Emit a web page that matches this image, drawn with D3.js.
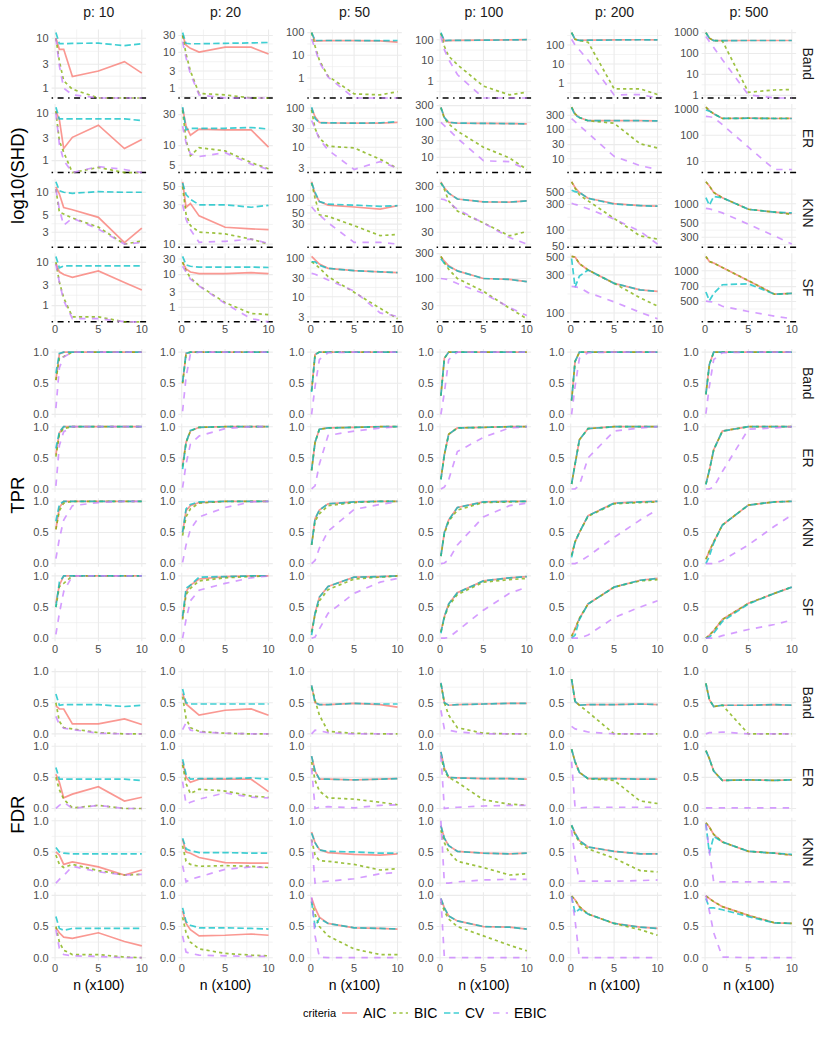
<!DOCTYPE html>
<html>
<head>
<meta charset="utf-8">
<script src="https://cdn.jsdelivr.net/npm/d3@7"></script>
<style>
  body { margin: 0; background: #fff; }
  svg text { font-family: "Liberation Sans", Arial, sans-serif; }
</style>
</head>
<body>
<svg id="chart" width="830" height="1038"></svg>
<script>

// ---- axes / categories ----
var nVals = [0.1, 0.5, 1, 2, 5, 8, 10];
var pVals = [10, 20, 50, 100, 200, 500];
var graphTypes = ["Band", "ER", "KNN", "SF"];
var criteria = ["AIC", "BIC", "CV", "EBIC"];
var metrics = ["SHD", "TPR", "FDR"];
var metricTitles = ["log10(SHD)", "TPR", "FDR"];
var xTicks = [0, 5, 10];
var rateTicks = [0, 0.5, 1];

// log10 tick labels shown on each SHD panel, one list per p
var shdTicksBand = [[1, 3, 10], [1, 3, 10, 30], [1, 10, 100], [1, 10, 100], [1, 10, 100], [1, 10, 100, 1000]];
var shdTicksER   = [[1, 3, 10], [5, 10, 30], [3, 10, 30, 100], [10, 30, 100, 300], [10, 30, 100, 300], [10, 100, 1000]];
var shdTicksKNN  = [[3, 5, 10], [10, 30, 50], [30, 50, 100], [30, 100, 300], [50, 100, 300, 500], [300, 500, 1000]];
var shdTicksSF   = [[1, 3, 10], [1, 3, 10, 30], [3, 10, 30, 100], [30, 100, 300], [100, 300, 500], [500, 700, 1000]];

// ---- SHD (rows = p 10..500, cols = n) ----
var shdBandAIC = [[10, 6, 6, 1.7, 2.2, 3.4, 2.0], [30, 16, 13, 10.2, 14, 14, 9], [100, 42, 43, 44, 44, 43, 38], [200, 88, 90, 92, 95, 98, 100], [450, 200, 175, 180, 185, 190, 185], [1000, 540, 415, 415, 420, 420, 420]];
var shdBandBIC = [[10, 3.5, 1.4, 0.95, 0, 0, 0], [30, 9, 3, 0.7, 0.64, 0, 0], [100, 25, 6, 1.2, 0.2, 0.18, 0.25], [200, 48, 16, 6.3, 0.58, 0.22, 0.3], [450, 200, 175, 140, 0.5, 0.5, 0.25], [1000, 540, 415, 400, 1.4, 1.8, 1.9]];
var shdBandCV = [[13, 7.8, 7.8, 7.9, 8, 7.1, 7.8], [36, 18, 17.5, 17.5, 18, 18.5, 19], [100, 45, 45, 45, 45, 44, 45], [220, 90, 92, 93, 95, 98, 100], [450, 200, 175, 180, 185, 190, 185], [1000, 540, 415, 415, 420, 420, 420]];
var shdBandEBIC = [[10, 2.8, 1.0, 0.73, 0, 0, 0], [20, 7, 2.5, 0.64, 0, 0, 0], [52, 20, 5, 1.1, 0, 0, 0], [145, 33, 11, 2.1, 0, 0, 0], [200, 100, 55, 16, 0.24, 0.25, 0], [650, 380, 195, 51, 1.05, 0, 0]];

var shdERAIC = [[11, 7.3, 1.8, 3.1, 5.6, 1.8, 2.8], [38, 20, 14.5, 18, 17.5, 17.5, 9.5], [100, 60, 43, 42, 41, 41, 43], [270, 137, 100, 95, 93, 92, 90], [560, 330, 250, 195, 195, 195, 192], [1150, 850, 650, 430, 440, 430, 435]];
var shdERBIC = [[11, 2.6, 1.5, 0, 0.72, 0, 0], [35, 12, 7, 9.3, 8.3, 5.5, 4.4], [90, 30, 17, 10.6, 9.6, 4.9, 2.9], [260, 130, 90, 56, 19.5, 9.6, 4.5], [560, 330, 250, 195, 160, 32, 23], [1150, 850, 650, 430, 440, 430, 435]];
var shdERCV = [[13.4, 7.6, 7.6, 7.6, 7.6, 7.6, 7], [39, 17.5, 18.5, 18.5, 18.5, 19, 18], [105, 54, 42, 42, 41, 42, 45], [265, 137, 100, 95, 93, 92, 90], [540, 300, 250, 195, 195, 195, 192], [900, 820, 650, 430, 440, 430, 430]];
var shdEREBIC = [[10, 2.2, 1.0, 0, 0.75, 0.65, 0], [20, 11, 7.5, 6.8, 7.8, 5.2, 4.3], [48, 30, 16, 8.5, 2.7, 4.3, 2.9], [100, 80, 62, 35, 8, 7.5, 4.5], [230, 180, 135, 74, 12, 5.8, 4.3], [520, 500, 470, 250, 35, 5, 5]];

var shdKNNAIC = [[11.8, 9.5, 6.3, 5.9, 4.7, 2.2, 3.4], [57, 28, 31, 22, 16, 15.3, 15], [210, 120, 85, 72, 66, 60, 70], [380, 280, 215, 160, 138, 137, 145], [790, 620, 500, 390, 310, 285, 280], [2200, 1900, 1500, 1240, 820, 740, 700]];
var shdKNNBIC = [[11, 5.5, 5.2, 4.6, 3.5, 2.1, 2.3], [50, 23, 16.8, 14, 13.3, 11.5, 10], [200, 100, 46, 43, 28, 17.7, 18.7], [360, 260, 145, 87, 48, 25, 31], [790, 600, 450, 350, 165, 78, 68], [2200, 1900, 1500, 1240, 820, 740, 680]];
var shdKNNCV = [[13.7, 10.5, 10, 9.7, 10.2, 10, 10], [55, 40, 35, 30, 30, 28, 29.5], [200, 130, 85, 75, 72, 68, 70], [360, 280, 215, 160, 138, 137, 145], [550, 520, 500, 390, 305, 285, 278], [1250, 950, 1300, 1240, 820, 740, 720]];
var shdKNNEBIC = [[11, 6, 3.7, 4.6, 3.3, 2.1, 2.2], [30, 20, 15, 10.5, 10.8, 11.5, 10.2], [67, 55, 46, 32, 13, 13, 12], [160, 155, 135, 95, 48, 23, 16.5], [315, 300, 285, 250, 160, 95, 55], [850, 830, 800, 720, 480, 315, 235]];

var shdSFAIC = [[9.3, 6, 5.2, 4.5, 6.3, 3.4, 2.3], [24, 15, 12, 10.7, 10.7, 11.5, 10.7], [110, 90, 70, 54, 47, 44, 42], [265, 215, 175, 140, 100, 96, 87], [510, 500, 415, 345, 235, 195, 186], [1380, 1230, 1190, 1075, 800, 590, 600]];
var shdSFBIC = [[10, 3.5, 1.5, 0.55, 0.55, 0, 0], [24, 13, 8, 4.6, 1.4, 0.65, 0.6], [80, 70, 55, 33, 13, 5, 2.7], [265, 200, 150, 100, 57, 27, 17], [510, 500, 415, 345, 235, 155, 122], [1380, 1230, 1190, 1075, 800, 590, 600]];
var shdSFCV = [[13.6, 7.4, 8.2, 8.2, 8.2, 8.2, 8.2], [36, 20, 18, 17, 17, 17, 16.5], [80, 80, 65, 54, 47, 44, 42], [240, 195, 170, 140, 100, 96, 87], [480, 210, 290, 345, 235, 195, 186], [620, 510, 600, 730, 745, 590, 600]];
var shdSFEBIC = [[9, 3.5, 1.3, 0.5, 0.5, 0, 0], [18, 12, 7.3, 4.5, 1.3, 0.45, 0], [40, 38, 34, 27, 14, 3.8, 3.1], [100, 98, 95, 80, 52, 28, 19.5], [215, 212, 208, 180, 138, 102, 85], [505, 500, 495, 450, 400, 360, 340]];

// ---- TPR ----
var tprBandAIC = [[0.55, 0.97, 1, 1, 1, 1, 1], [0.5, 0.98, 1, 1, 1, 1, 1], [0.38, 0.96, 1, 1, 1, 1, 1], [0.3, 0.9, 1, 1, 1, 1, 1], [0.22, 0.85, 1, 1, 1, 1, 1], [0.32, 0.8, 1, 1, 1, 1, 1]];
var tprBandBIC = [[0.55, 0.9, 0.93, 1, 1, 1, 1], [0.5, 0.97, 1, 1, 1, 1, 1], [0.38, 0.96, 1, 1, 1, 1, 1], [0.3, 0.9, 1, 1, 1, 1, 1], [0.22, 0.85, 1, 1, 1, 1, 1], [0.32, 0.8, 1, 1, 1, 1, 1]];
var tprBandCV = [[0.66, 0.98, 1, 1, 1, 1, 1], [0.52, 0.98, 1, 1, 1, 1, 1], [0.36, 0.96, 1, 1, 1, 1, 1], [0.3, 0.9, 1, 1, 1, 1, 1], [0.22, 0.85, 1, 1, 1, 1, 1], [0.32, 0.8, 1, 1, 1, 1, 1]];
var tprBandEBIC = [[0.1, 0.75, 0.92, 1, 1, 1, 1], [0.05, 0.6, 0.97, 1, 1, 1, 1], [0.0, 0.45, 0.88, 0.99, 1, 1, 1], [0.0, 0.35, 0.88, 1, 1, 1, 1], [0.0, 0.45, 0.9, 0.99, 1, 1, 1], [0.01, 0.45, 0.88, 0.99, 1, 1, 1]];

var tprERAIC = [[0.55, 0.9, 1, 1, 1, 1, 1], [0.38, 0.75, 0.93, 0.99, 1, 1, 1], [0.3, 0.75, 0.96, 0.98, 0.99, 1, 1], [0.16, 0.55, 0.88, 0.98, 0.99, 1, 1], [0.08, 0.4, 0.79, 0.97, 1, 1, 1], [0.08, 0.3, 0.63, 0.93, 1, 1, 1]];
var tprERBIC = [[0.52, 0.88, 0.97, 1, 1, 1, 1], [0.36, 0.74, 0.93, 0.99, 1, 1, 1], [0.3, 0.75, 0.96, 0.98, 0.99, 1, 1], [0.16, 0.55, 0.88, 0.98, 0.99, 1, 1], [0.08, 0.4, 0.79, 0.97, 1, 1, 1], [0.08, 0.3, 0.63, 0.93, 1, 1, 1]];
var tprERCV = [[0.65, 0.92, 1, 1, 1, 1, 1], [0.32, 0.75, 0.94, 0.99, 1, 1, 1], [0.3, 0.75, 0.96, 0.98, 0.99, 1, 1], [0.15, 0.55, 0.88, 0.98, 0.99, 1, 1], [0.08, 0.4, 0.79, 0.97, 1, 1, 1], [0.07, 0.3, 0.63, 0.93, 1, 1, 1]];
var tprEREBIC = [[0.05, 0.7, 0.92, 1, 1, 1, 1], [0.02, 0.4, 0.72, 0.85, 0.97, 1, 1], [0.0, 0.05, 0.4, 0.86, 0.93, 0.98, 1], [0.0, 0.03, 0.15, 0.6, 0.83, 0.98, 1], [0.0, 0.0, 0.06, 0.5, 0.93, 0.98, 1], [0.0, 0.0, 0.03, 0.28, 0.96, 0.98, 1]];

var tprKNNAIC = [[0.55, 0.9, 1, 1, 1, 1, 1], [0.5, 0.85, 0.93, 0.98, 1, 1, 1], [0.3, 0.72, 0.86, 0.96, 0.99, 1, 1], [0.12, 0.5, 0.7, 0.9, 0.99, 1, 1], [0.13, 0.35, 0.5, 0.77, 0.97, 0.99, 1], [0.07, 0.2, 0.35, 0.62, 0.94, 0.99, 1]];
var tprKNNBIC = [[0.55, 0.85, 0.97, 1, 1, 1, 1], [0.45, 0.75, 0.88, 0.97, 1, 1, 1], [0.3, 0.68, 0.8, 0.93, 0.98, 1, 1], [0.12, 0.48, 0.68, 0.86, 0.98, 0.99, 1], [0.13, 0.35, 0.5, 0.76, 0.96, 0.98, 0.99], [0.07, 0.2, 0.35, 0.62, 0.94, 0.99, 1]];
var tprKNNCV = [[0.68, 0.95, 1, 1, 1, 1, 1], [0.5, 0.88, 0.95, 0.99, 1, 1, 1], [0.3, 0.72, 0.86, 0.96, 0.99, 1, 1], [0.12, 0.5, 0.7, 0.9, 0.99, 1, 1], [0.1, 0.35, 0.5, 0.77, 0.97, 0.99, 1], [0.0, 0.12, 0.33, 0.62, 0.94, 0.99, 1]];
var tprKNNEBIC = [[0.08, 0.4, 0.7, 0.93, 0.98, 1, 1], [0.02, 0.3, 0.55, 0.75, 0.9, 0.99, 1], [0.0, 0.05, 0.25, 0.52, 0.87, 0.95, 0.99], [0.0, 0.01, 0.06, 0.3, 0.75, 0.93, 0.97], [0.0, 0.0, 0.03, 0.12, 0.42, 0.7, 0.87], [0.0, 0.0, 0.0, 0.05, 0.3, 0.6, 0.78]];

var tprSFAIC = [[0.56, 0.85, 1, 1, 1, 1, 1], [0.32, 0.75, 0.85, 0.95, 0.99, 1, 1], [0.09, 0.4, 0.66, 0.83, 0.98, 0.99, 1], [0.1, 0.35, 0.55, 0.73, 0.92, 0.97, 0.99], [0.03, 0.15, 0.32, 0.55, 0.82, 0.93, 0.96], [0.0, 0.05, 0.12, 0.3, 0.56, 0.72, 0.82]];
var tprSFBIC = [[0.5, 0.83, 0.88, 1, 1, 1, 1], [0.3, 0.7, 0.8, 0.92, 0.97, 0.99, 1], [0.1, 0.38, 0.6, 0.78, 0.95, 0.98, 1], [0.1, 0.33, 0.52, 0.7, 0.9, 0.94, 0.96], [0.03, 0.15, 0.32, 0.55, 0.82, 0.92, 0.94], [0.0, 0.05, 0.12, 0.3, 0.56, 0.72, 0.82]];
var tprSFCV = [[0.5, 0.9, 1, 1, 1, 1, 1], [0.35, 0.8, 0.85, 0.98, 0.99, 1, 1], [0.05, 0.4, 0.66, 0.83, 0.98, 0.99, 1], [0.08, 0.35, 0.55, 0.73, 0.92, 0.97, 0.99], [0.0, 0.05, 0.3, 0.55, 0.82, 0.93, 0.96], [0.0, 0.02, 0.08, 0.27, 0.55, 0.72, 0.82]];
var tprSFEBIC = [[0.06, 0.4, 0.75, 1, 1, 1, 1], [0.0, 0.3, 0.6, 0.77, 0.88, 0.97, 1], [0.0, 0.02, 0.15, 0.4, 0.72, 0.9, 0.96], [0.0, 0.0, 0.01, 0.12, 0.45, 0.72, 0.82], [0.0, 0.0, 0.0, 0.05, 0.33, 0.5, 0.6], [0.0, 0.0, 0.0, 0.04, 0.14, 0.22, 0.29]];

// ---- FDR ----
var fdrBandAIC = [[0.45, 0.4, 0.4, 0.16, 0.16, 0.24, 0.15], [0.65, 0.48, 0.42, 0.3, 0.38, 0.4, 0.3], [0.78, 0.5, 0.47, 0.47, 0.49, 0.47, 0.43], [0.82, 0.5, 0.46, 0.47, 0.48, 0.49, 0.49], [0.88, 0.52, 0.46, 0.47, 0.47, 0.48, 0.47], [0.81, 0.55, 0.44, 0.46, 0.46, 0.47, 0.46]];
var fdrBandBIC = [[0.5, 0.2, 0.1, 0.08, 0.02, 0, 0], [0.6, 0.25, 0.1, 0.04, 0.01, 0, 0], [0.75, 0.54, 0.3, 0.04, 0.01, 0, 0], [0.8, 0.5, 0.3, 0.1, 0.01, 0, 0], [0.88, 0.52, 0.46, 0.35, 0, 0, 0], [0.81, 0.55, 0.44, 0.46, 0, 0, 0]];
var fdrBandCV = [[0.64, 0.46, 0.47, 0.47, 0.47, 0.44, 0.46], [0.72, 0.5, 0.48, 0.48, 0.48, 0.48, 0.48], [0.78, 0.5, 0.47, 0.47, 0.49, 0.48, 0.48], [0.82, 0.5, 0.46, 0.47, 0.48, 0.49, 0.49], [0.88, 0.52, 0.46, 0.47, 0.47, 0.48, 0.47], [0.81, 0.55, 0.44, 0.46, 0.46, 0.47, 0.46]];
var fdrBandEBIC = [[0.28, 0.15, 0.09, 0.07, 0.01, 0, 0], [0.07, 0.18, 0.06, 0.03, 0.01, 0, 0], [0.0, 0.06, 0.05, 0.02, 0, 0, 0], [0.38, 0.08, 0.06, 0.03, 0, 0, 0], [0.12, 0.08, 0.065, 0.03, 0, 0, 0], [0.0, 0.02, 0.02, 0.03, 0, 0, 0]];

var fdrERAIC = [[0.55, 0.42, 0.17, 0.23, 0.35, 0.12, 0.18], [0.75, 0.5, 0.42, 0.47, 0.47, 0.47, 0.27], [0.84, 0.6, 0.47, 0.47, 0.46, 0.47, 0.48], [0.91, 0.65, 0.5, 0.49, 0.48, 0.48, 0.47], [0.95, 0.75, 0.58, 0.48, 0.48, 0.47, 0.47], [0.93, 0.8, 0.6, 0.45, 0.46, 0.45, 0.46]];
var fdrERBIC = [[0.5, 0.3, 0.15, 0.01, 0.05, 0, 0], [0.7, 0.4, 0.24, 0.31, 0.28, 0.2, 0.18], [0.75, 0.45, 0.28, 0.17, 0.15, 0.1, 0.06], [0.85, 0.6, 0.5, 0.42, 0.14, 0.07, 0.05], [0.95, 0.75, 0.58, 0.48, 0.45, 0.12, 0.08], [0.93, 0.8, 0.6, 0.45, 0.46, 0.45, 0.46]];
var fdrERCV = [[0.66, 0.47, 0.47, 0.47, 0.47, 0.47, 0.45], [0.79, 0.55, 0.47, 0.48, 0.48, 0.49, 0.47], [0.84, 0.6, 0.47, 0.47, 0.46, 0.47, 0.48], [0.91, 0.65, 0.5, 0.49, 0.48, 0.48, 0.47], [0.95, 0.75, 0.58, 0.48, 0.48, 0.47, 0.47], [0.93, 0.8, 0.6, 0.45, 0.46, 0.45, 0.46]];
var fdrEREBIC = [[0.0, 0.05, 0.1, 0.0, 0.05, 0.0, 0.0], [0.43, 0.07, 0.1, 0.15, 0.25, 0.18, 0.17], [0.65, 0.0, 0.02, 0.03, 0.01, 0.05, 0.06], [0.85, 0.0, 0.01, 0.02, 0.04, 0.05, 0.05], [0.75, 0.02, 0.01, 0.02, 0.02, 0.02, 0.02], [0.01, 0.01, 0.01, 0.01, 0.01, 0.01, 0.01]];

var fdrKNNAIC = [[0.5, 0.45, 0.3, 0.34, 0.26, 0.13, 0.21], [0.7, 0.5, 0.48, 0.41, 0.33, 0.32, 0.32], [0.82, 0.65, 0.54, 0.49, 0.46, 0.45, 0.47], [0.92, 0.72, 0.6, 0.51, 0.48, 0.47, 0.48], [0.93, 0.8, 0.68, 0.58, 0.51, 0.47, 0.47], [0.97, 0.9, 0.78, 0.66, 0.51, 0.48, 0.45]];
var fdrKNNBIC = [[0.45, 0.3, 0.25, 0.3, 0.2, 0.13, 0.14], [0.6, 0.35, 0.3, 0.27, 0.28, 0.27, 0.25], [0.7, 0.45, 0.36, 0.35, 0.3, 0.21, 0.23], [0.85, 0.65, 0.5, 0.35, 0.25, 0.13, 0.15], [0.92, 0.78, 0.65, 0.55, 0.4, 0.2, 0.18], [0.97, 0.9, 0.78, 0.66, 0.51, 0.48, 0.45]];
var fdrKNNCV = [[0.57, 0.5, 0.48, 0.47, 0.47, 0.47, 0.47], [0.72, 0.55, 0.52, 0.49, 0.49, 0.48, 0.48], [0.8, 0.65, 0.53, 0.51, 0.5, 0.48, 0.48], [0.92, 0.72, 0.6, 0.51, 0.48, 0.47, 0.48], [0.93, 0.8, 0.68, 0.58, 0.51, 0.47, 0.47], [0.95, 0.48, 0.75, 0.66, 0.51, 0.48, 0.46]];
var fdrKNNEBIC = [[0.0, 0.06, 0.12, 0.27, 0.18, 0.13, 0.14], [0.28, 0.02, 0.06, 0.1, 0.22, 0.26, 0.25], [0.7, 0.0, 0.02, 0.03, 0.07, 0.15, 0.17], [1.0, 0.0, 0.0, 0.02, 0.05, 0.06, 0.06], [0.85, 0.4, 0.03, 0.03, 0.03, 0.04, 0.05], [0.95, 0.5, 0.02, 0.02, 0.02, 0.02, 0.02]];

var fdrSFAIC = [[0.48, 0.4, 0.33, 0.31, 0.4, 0.26, 0.19], [0.75, 0.55, 0.45, 0.35, 0.36, 0.38, 0.36], [0.96, 0.8, 0.65, 0.55, 0.48, 0.47, 0.46], [0.95, 0.8, 0.67, 0.59, 0.5, 0.49, 0.46], [0.99, 0.93, 0.82, 0.7, 0.55, 0.49, 0.47], [0.99, 0.95, 0.9, 0.82, 0.68, 0.56, 0.55]];
var fdrSFBIC = [[0.5, 0.25, 0.12, 0.05, 0.05, 0.01, 0], [0.65, 0.4, 0.25, 0.14, 0.07, 0.04, 0.03], [0.9, 0.7, 0.5, 0.35, 0.14, 0.05, 0.05], [0.9, 0.75, 0.62, 0.5, 0.35, 0.2, 0.11], [0.99, 0.93, 0.82, 0.7, 0.55, 0.45, 0.36], [0.99, 0.95, 0.9, 0.82, 0.68, 0.56, 0.55]];
var fdrSFCV = [[0.66, 0.47, 0.44, 0.47, 0.47, 0.47, 0.47], [0.8, 0.58, 0.52, 0.48, 0.48, 0.47, 0.46], [0.9, 0.5, 0.63, 0.55, 0.48, 0.47, 0.46], [0.95, 0.8, 0.67, 0.59, 0.5, 0.49, 0.46], [0.98, 0.72, 0.78, 0.7, 0.55, 0.49, 0.47], [0.95, 0.8, 0.8, 0.77, 0.66, 0.56, 0.55]];
var fdrSFEBIC = [[0.45, 0.15, 0.05, 0.03, 0.02, 0, 0], [0.35, 0.09, 0.07, 0.04, 0.03, 0.02, 0.02], [0.97, 0.35, 0.01, 0, 0, 0, 0], [0.95, 0.0, 0.0, 0, 0, 0, 0], [0.98, 0.6, 0.0, 0, 0, 0, 0], [1.0, 0.75, 0.4, 0.01, 0, 0, 0]];

// lookup table built from the arrays above
var table = {
    SHD: {
        Band: {AIC: shdBandAIC, BIC: shdBandBIC, CV: shdBandCV, EBIC: shdBandEBIC},
        ER:   {AIC: shdERAIC, BIC: shdERBIC, CV: shdERCV, EBIC: shdEREBIC},
        KNN:  {AIC: shdKNNAIC, BIC: shdKNNBIC, CV: shdKNNCV, EBIC: shdKNNEBIC},
        SF:   {AIC: shdSFAIC, BIC: shdSFBIC, CV: shdSFCV, EBIC: shdSFEBIC}
    },
    TPR: {
        Band: {AIC: tprBandAIC, BIC: tprBandBIC, CV: tprBandCV, EBIC: tprBandEBIC},
        ER:   {AIC: tprERAIC, BIC: tprERBIC, CV: tprERCV, EBIC: tprEREBIC},
        KNN:  {AIC: tprKNNAIC, BIC: tprKNNBIC, CV: tprKNNCV, EBIC: tprKNNEBIC},
        SF:   {AIC: tprSFAIC, BIC: tprSFBIC, CV: tprSFCV, EBIC: tprSFEBIC}
    },
    FDR: {
        Band: {AIC: fdrBandAIC, BIC: fdrBandBIC, CV: fdrBandCV, EBIC: fdrBandEBIC},
        ER:   {AIC: fdrERAIC, BIC: fdrERBIC, CV: fdrERCV, EBIC: fdrEREBIC},
        KNN:  {AIC: fdrKNNAIC, BIC: fdrKNNBIC, CV: fdrKNNCV, EBIC: fdrKNNEBIC},
        SF:   {AIC: fdrSFAIC, BIC: fdrSFBIC, CV: fdrSFCV, EBIC: fdrSFEBIC}
    }
};
var shdTicks = {Band: shdTicksBand, ER: shdTicksER, KNN: shdTicksKNN, SF: shdTicksSF};

// ---- layout ----
var svg = d3.select("#chart");
var colLeft = [51.6, 178.3, 307.3, 436.6, 567.3, 701.6],
    panelW = 94.5,
    panelH = 68.5,
    rowPitch = 74.6,
    blockTop = [29.5, 349, 668.5];

var colors = {AIC: "#F8766D", BIC: "#7CAE00", CV: "#00BFC4", EBIC: "#C77CFF"};
var dashes = {AIC: null, BIC: "3.2,3.2", CV: "6.4,3.2", EBIC: "6.4,6.4"};

var xExt = d3.extent(nVals), xPad = (xExt[1] - xExt[0]) * 0.05;
var x = d3.scaleLinear().domain([xExt[0] - xPad, xExt[1] + xPad]).range([0, panelW]);

function gridLine(g, horiz, pos, width) {
    g.append("line")
        .attr("x1", horiz ? 0 : pos).attr("x2", horiz ? panelW : pos)
        .attr("y1", horiz ? pos : 0).attr("y2", horiz ? pos : panelH)
        .attr("stroke", "#EBEBEB")
        .attr("stroke-width", width);
}

metrics.forEach(function (metric, mi) {
    graphTypes.forEach(function (gt, ri) {
        pVals.forEach(function (p, ci) {

            var top = blockTop[mi] + ri * rowPitch;
            var g = svg.append("g").attr("transform", "translate(" + colLeft[ci] + "," + top + ")");
            var sets = criteria.map(function (cr) {
                return {
                    id: cr,
                    values: table[metric][gt][cr][ci].map(function (v, i) { return {n: nVals[i], v: v}; })
                };
            });

            var y, majors, minors, fmt, isLog = metric === "SHD";
            if (isLog) {
                var logs = [];
                sets.forEach(function (s) {
                    s.values.forEach(function (d) { if (d.v > 0) logs.push(Math.log10(d.v)); });
                });
                var lo = d3.min(logs), hi = d3.max(logs), pad = (hi - lo) * 0.05;
                y = d3.scaleLog().domain([Math.pow(10, lo - pad), Math.pow(10, hi + pad)]).range([panelH, 0]);
                var dom = y.domain();
                majors = shdTicks[gt][ci].filter(function (t) { return t >= dom[0] && t <= dom[1]; });
                var L = shdTicks[gt][ci].map(Math.log10);
                var mids = [L[0] - (L[1] - L[0]) / 2];
                for (var i = 0; i < L.length - 1; i++) mids.push((L[i] + L[i + 1]) / 2);
                mids.push(L[L.length - 1] + (L[L.length - 1] - L[L.length - 2]) / 2);
                minors = mids.map(function (m) { return Math.pow(10, m); })
                    .filter(function (t) { return t >= dom[0] && t <= dom[1]; });
                fmt = function (t) { return String(t); };
            } else {
                y = d3.scaleLinear().domain([-0.05, 1.05]).range([panelH, 0]);
                majors = rateTicks;
                minors = [0.25, 0.75];
                fmt = d3.format(".1f");
            }

            // grid
            [2.5, 7.5].forEach(function (t) { gridLine(g, false, x(t), 0.6); });
            minors.forEach(function (t) { gridLine(g, true, y(t), 0.6); });
            xTicks.forEach(function (t) { gridLine(g, false, x(t), 1.1); });
            majors.forEach(function (t) { gridLine(g, true, y(t), 1.1); });

            // y tick labels
            g.selectAll(".ytick")
                .data(majors)
                .enter().append("text")
                .attr("x", -3)
                .attr("y", function (d) { return y(d); })
                .attr("dy", "0.35em")
                .attr("text-anchor", "end")
                .attr("font-size", 11)
                .attr("fill", "#4D4D4D")
                .text(fmt);

            // reference line at zero (log scale puts it on the panel floor)
            if (isLog) {
                g.append("line")
                    .attr("x1", 0).attr("x2", panelW)
                    .attr("y1", panelH).attr("y2", panelH)
                    .attr("stroke", "#000")
                    .attr("stroke-width", 1.5)
                    .attr("stroke-dasharray", "1.5,4.5,6,4.5");
            }

            var line = d3.line()
                .x(function (d) { return x(d.n); })
                .y(function (d) { return (isLog && d.v <= 0) ? panelH : y(d.v); });

            g.selectAll(".crit")
                .data(sets)
                .enter().append("path")
                .attr("d", function (d) { return line(d.values); })
                .attr("fill", "none")
                .attr("stroke", function (d) { return colors[d.id]; })
                .attr("stroke-width", 1.7)
                .attr("stroke-opacity", 0.75)
                .attr("stroke-dasharray", function (d) { return dashes[d.id]; });

            // x tick labels under the last row of each block
            if (ri === graphTypes.length - 1) {
                g.selectAll(".xtick")
                    .data(xTicks)
                    .enter().append("text")
                    .attr("x", function (d) { return x(d); })
                    .attr("y", panelH + 11.5)
                    .attr("text-anchor", "middle")
                    .attr("font-size", 11)
                    .attr("fill", "#4D4D4D")
                    .text(function (d) { return d; });
                if (mi === metrics.length - 1) {
                    g.append("text")
                        .attr("x", panelW / 2)
                        .attr("y", panelH + 29)
                        .attr("text-anchor", "middle")
                        .attr("font-size", 14)
                        .attr("fill", "#000")
                        .text("n (x100)");
                }
            }

            // top strips
            if (mi === 0 && ri === 0) {
                svg.append("text")
                    .attr("x", colLeft[ci] + panelW / 2)
                    .attr("y", 17)
                    .attr("text-anchor", "middle")
                    .attr("font-size", 14)
                    .attr("fill", "#1A1A1A")
                    .text("p: " + p);
            }
        });

        // right strips
        svg.append("text")
            .attr("transform", "translate(808," + (blockTop[mi] + ri * rowPitch + panelH / 2) + ") rotate(90)")
            .attr("text-anchor", "middle")
            .attr("dy", "0.35em")
            .attr("font-size", 14)
            .attr("fill", "#1A1A1A")
            .text(gt);
    });

    // metric title
    var blockMid = blockTop[mi] + (3 * rowPitch + panelH) / 2;
    svg.append("text")
        .attr("transform", "translate(18," + blockMid + ") rotate(-90)")
        .attr("text-anchor", "middle")
        .attr("dy", "0.35em")
        .attr("font-size", 18.5)
        .attr("fill", "#000")
        .text(metricTitles[mi]);
});

// legend
var legendY = 1013;
svg.append("text")
    .attr("x", 303).attr("y", legendY)
    .attr("dy", "0.35em")
    .attr("font-size", 11)
    .attr("fill", "#000")
    .text("criteria");

var keyX = [342, 393, 444, 493];
var legend = svg.selectAll(".key")
    .data(criteria)
    .enter().append("g")
    .attr("transform", function (d, i) { return "translate(" + keyX[i] + "," + legendY + ")"; });

legend.append("line")
    .attr("x1", 0).attr("x2", 15)
    .attr("stroke", function (d) { return colors[d]; })
    .attr("stroke-width", 1.7)
    .attr("stroke-opacity", 0.75)
    .attr("stroke-dasharray", function (d) { return dashes[d]; });

legend.append("text")
    .attr("x", 21)
    .attr("dy", "0.35em")
    .attr("font-size", 14)
    .attr("fill", "#000")
    .text(function (d) { return d; });

</script>
</body>
</html>
